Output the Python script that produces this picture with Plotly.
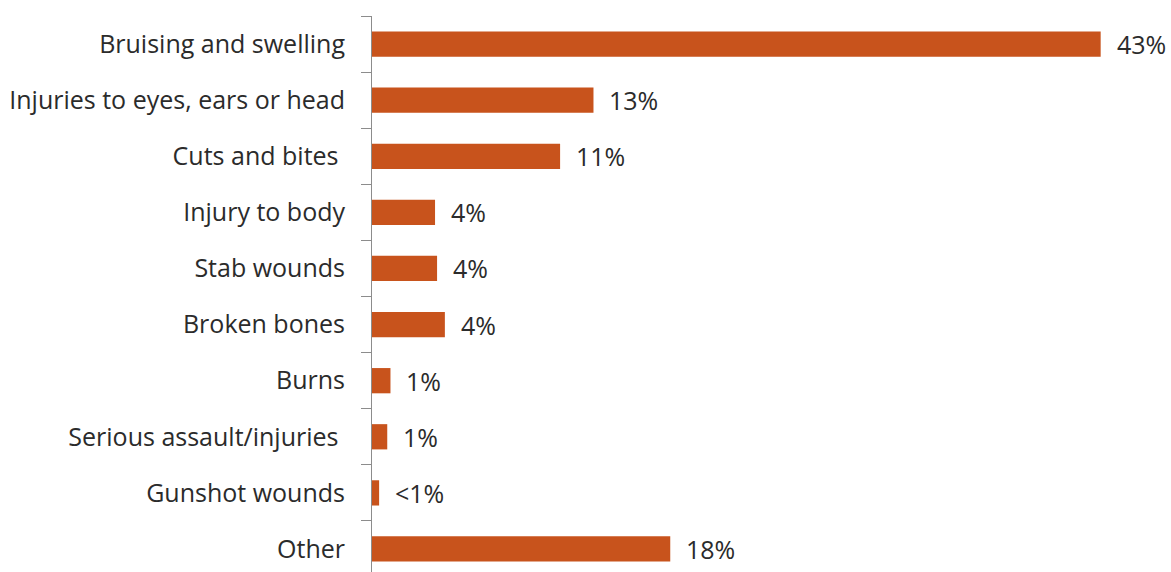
import plotly.graph_objects as go

# Share of reported injuries by type (%)
categories = [
    "Bruising and swelling",
    "Injuries to eyes, ears or head",
    "Cuts and bites\u00a0",
    "Injury to body",
    "Stab wounds",
    "Broken bones",
    "Burns",
    "Serious assault/injuries\u00a0",
    "Gunshot wounds",
    "Other",
]
values = [43.0, 13.07, 11.1, 3.72, 3.84, 4.3, 1.09, 0.9, 0.42, 17.6]


def pct_label(v):
    return "<1%" if v < 0.5 else f"{int(v + 0.5)}%"


labels = [pct_label(v) for v in values]

BAR_COLOR = "#C8531C"
TEXT_COLOR = "#2b2b2b"
AXIS_COLOR = "#8c8c8c"
FONT = "Open Sans, Lato, sans-serif"
FONT_SIZE = 25

fig = go.Figure(
    go.Bar(
        x=values,
        y=categories,
        orientation="h",
        marker=dict(color=BAR_COLOR, line=dict(width=0)),
        hoverinfo="skip",
    )
)

# value labels to the right of each bar
for cat, v, lab in zip(categories, values, labels):
    fig.add_annotation(
        x=v, y=cat, text=lab, showarrow=False,
        xanchor="left", yanchor="middle", xshift=14,
        font=dict(family=FONT, size=FONT_SIZE, color=TEXT_COLOR),
    )

fig.update_layout(
    width=1171,
    height=572,
    margin=dict(l=372, r=0, t=16, b=0),
    paper_bgcolor="white",
    plot_bgcolor="white",
    bargap=0.55,
    showlegend=False,
    font=dict(family=FONT, size=FONT_SIZE, color=TEXT_COLOR),
    xaxis=dict(
        range=[0, 47.15],
        visible=False,
        showgrid=False,
        zeroline=False,
    ),
    yaxis=dict(
        type="category",
        categoryorder="array",
        categoryarray=categories,
        range=[9.41, -0.5],
        showline=True,
        linecolor=AXIS_COLOR,
        linewidth=1,
        ticks="outside",
        tickson="boundaries",
        ticklen=10,
        tickcolor=AXIS_COLOR,
        tickwidth=1,
        ticklabelstandoff=21,
        showgrid=False,
        tickfont=dict(family=FONT, size=FONT_SIZE, color=TEXT_COLOR),
    ),
)

fig.write_html("out.html")
